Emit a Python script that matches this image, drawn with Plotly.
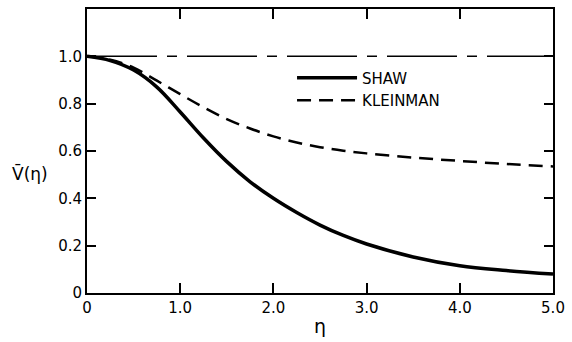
import plotly.graph_objects as go

eta = [0, 0.25, 0.5, 0.75, 1.0, 1.25, 1.5, 1.75, 2.0, 2.25, 2.5, 2.75, 3.0, 3.5, 4.0, 4.5, 5.0]
shaw = [1.0, 0.982, 0.942, 0.87, 0.765, 0.655, 0.555, 0.47, 0.40, 0.34, 0.287, 0.243, 0.207, 0.152, 0.115, 0.095, 0.08]
kleinman = [1.0, 0.986, 0.952, 0.897, 0.84, 0.785, 0.735, 0.695, 0.662, 0.636, 0.616, 0.601, 0.59, 0.572, 0.558, 0.545, 0.535]
ref_eta = [0, 5.0]
ref_val = [1.0, 1.0]

x_ticks = [0, 1, 2, 3, 4, 5]
x_labels = ["0", "1.0", "2.0", "3.0", "4.0", "5.0"]
y_ticks = [0, 0.2, 0.4, 0.6, 0.8, 1.0]
y_labels = ["0", "0.2", "0.4", "0.6", "0.8", "1.0"]

FONT = "DejaVu Sans"

fig = go.Figure()
fig.add_trace(go.Scatter(x=ref_eta, y=ref_val, mode="lines", showlegend=False,
                         line=dict(color="black", width=1.5, dash="70px,10px,10px,10px")))
fig.add_trace(go.Scatter(x=eta, y=shaw, mode="lines", name="SHAW", line_shape="spline",
                         line=dict(color="black", width=3.5, smoothing=1.0)))
fig.add_trace(go.Scatter(x=eta, y=kleinman, mode="lines", name="KLEINMAN", line_shape="spline",
                         line=dict(color="black", width=2.5, dash="14px,8px", smoothing=1.0)))

fig.update_layout(
    width=572, height=342,
    margin=dict(l=87, r=13, t=7, b=49),
    paper_bgcolor="white", plot_bgcolor="white",
    font=dict(family=FONT, size=15, color="black"),
    showlegend=True,
    legend=dict(x=0.44, y=0.815, xanchor="left", yanchor="top",
                bgcolor="rgba(0,0,0,0)", font=dict(size=15, family=FONT),
                itemwidth=60, tracegroupgap=0),
    xaxis=dict(range=[0, 5], tickvals=x_ticks, ticktext=x_labels, ticks="inside", ticklen=10,
               tickwidth=1.5, tickcolor="black", showline=True, linecolor="black", linewidth=2,
               mirror="ticks", showgrid=False, zeroline=False,
               title=dict(text="η", font=dict(size=19), standoff=4)),
    yaxis=dict(range=[0, 1.2], tickvals=y_ticks, ticktext=y_labels, ticks="inside", ticklen=9,
               tickwidth=1.5, tickcolor="black", showline=True, linecolor="black", linewidth=2,
               mirror="ticks", showgrid=False, zeroline=False),
    annotations=[dict(text="V\u0304(η)", xref="paper", yref="paper", x=-0.123, y=0.42,
                      xanchor="center", yanchor="middle", showarrow=False,
                      font=dict(size=17, family=FONT))],
)

fig.write_html("out.html")
